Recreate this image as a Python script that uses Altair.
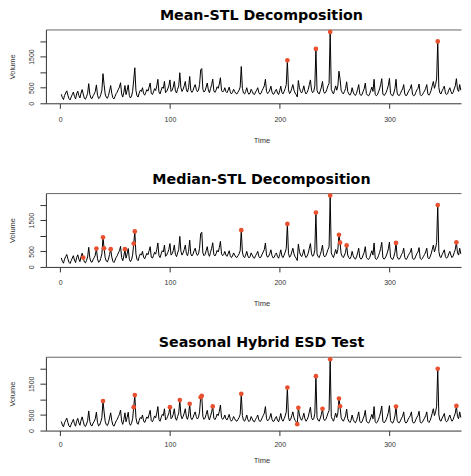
import altair as alt
import pandas as pd

# Daily volume series (t = 1..365)
volume = [
    290, 180, 120, 250, 330, 400, 260, 150, 110, 200,
    280, 360, 220, 140, 300, 390, 250, 170, 330, 440,
    300, 160, 130, 210, 320, 630, 290, 170, 150, 240,
    300, 380, 590, 260, 150, 180, 280, 420, 950, 600,
    300, 190, 160, 250, 400, 570, 320, 180, 140, 220,
    310, 360, 450, 520, 660, 300, 200, 350, 570, 280,
    420, 590, 250, 170, 230, 380, 750, 1140, 420, 240,
    200, 330, 420, 380, 500, 310, 260, 350, 440, 390,
    520, 650, 320, 280, 360, 470, 410, 560, 770, 360,
    300, 420, 520, 480, 700, 340, 380, 460, 560, 750,
    380, 420, 520, 700, 400, 330, 450, 560, 980, 500,
    380, 450, 560, 700, 430, 360, 500, 860, 420, 350,
    410, 520, 600, 450, 370, 420, 600, 1070, 1115, 450,
    360, 400, 520, 650, 430, 340, 470, 600, 775, 400,
    350, 420, 530, 480, 620, 820, 420, 360, 400, 500,
    380, 340, 420, 520, 360, 300, 350, 450, 380, 320,
    300, 360, 420, 520, 1180, 480, 330, 300, 380, 500,
    350, 290, 330, 450, 380, 300, 280, 360, 420, 500,
    340, 290, 320, 410, 480, 560, 770, 380, 310, 350,
    430, 550, 360, 290, 310, 400, 450, 330, 280, 400,
    550, 350, 300, 380, 470, 600, 1380, 430, 310, 360,
    480, 600, 420, 330, 280, 205, 730, 500, 380, 330,
    420, 560, 380, 300, 350, 440, 600, 750, 420, 340,
    380, 550, 1745, 420, 330, 300, 400, 520, 700, 380,
    320, 360, 450, 560, 640, 2290, 450, 360, 300, 420,
    560, 420, 560, 1030, 780, 420, 340, 300, 380, 470,
    690, 380, 300, 260, 330, 500, 360, 280, 250, 320,
    450, 600, 300, 250, 280, 380, 470, 650, 310, 260,
    240, 300, 420, 520, 380, 770, 290, 240, 270, 360,
    460, 600, 790, 300, 250, 280, 350, 450, 580, 800,
    320, 260, 240, 330, 470, 770, 330, 260, 250, 310,
    400, 460, 600, 300, 240, 270, 360, 420, 480, 600,
    290, 240, 260, 350, 430, 480, 620, 280, 240, 270,
    340, 400, 480, 600, 300, 260, 320, 420, 560, 700,
    480, 600, 780, 1985, 500, 330, 300, 400, 470, 550,
    330, 280, 310, 420, 500, 380, 300, 350, 460, 560,
    790, 450, 380, 600, 420,
]

# Anomalous time indices flagged by each method
mean_anoms = [207, 233, 246, 344]
median_anoms = [21, 33, 39, 40, 46, 59, 67, 68, 165, 207, 233, 246,
                254, 255, 261, 306, 344, 361]
hybrid_anoms = [39, 67, 68, 100, 109, 118, 128, 129, 139, 165, 207, 216,
                217, 233, 239, 246, 254, 255, 306, 344, 361]

titles = ["Mean-STL Decomposition", "Median-STL Decomposition",
          "Seasonal Hybrid ESD Test"]
x_ticks = [0, 100, 200, 300]
y_ticks = [0, 500, 1000, 1500, 2000]

series = pd.DataFrame({"Time": list(range(1, len(volume) + 1)), "Volume": volume})

AX = "#333333"
X_DOMAIN = [-13, 365.2]
Y_DOMAIN = [0, 2370]


def panel(title, anoms, label_pad, title_pad):
    pts = series[series["Time"].isin(anoms)]
    y = alt.Y(
        "Volume:Q",
        scale=alt.Scale(domain=Y_DOMAIN, nice=False),
        axis=alt.Axis(
            values=y_ticks, format="d",
            labelExpr="datum.value == 1000 || datum.value == 2000 ? '' : datum.label",
            labelAngle=270, labelAlign="center", labelBaseline="bottom",
            labelPadding=5, tickSize=6, grid=False,
            title="Volume", titlePadding=11,
        ),
    )
    x_bottom = alt.X(
        "Time:Q",
        scale=alt.Scale(domain=X_DOMAIN, nice=False, zero=False),
        axis=alt.Axis(values=x_ticks, format="d", tickSize=5,
                      labelPadding=label_pad, grid=False, title="Time",
                      titlePadding=title_pad, titleX=216),
    )
    x_top = alt.X(
        "Time:Q",
        scale=alt.Scale(domain=X_DOMAIN, nice=False, zero=False),
        axis=alt.Axis(orient="top", labels=False, ticks=False, grid=False,
                      title=None, domainColor="#666666"),
    )
    line = alt.Chart(series).mark_line(color="black", strokeWidth=1).encode(
        x=x_bottom, y=y)
    points = alt.Chart(pts).mark_circle(color="#E8502F", size=22, opacity=1).encode(
        x=x_top, y=y)
    return alt.layer(line, points).resolve_axis(x="independent").properties(
        width=416, height=74,
        title=alt.TitleParams(text=title, font="DejaVu Sans", fontSize=14.3,
                              fontWeight="bold", color="black", anchor="middle",
                              offset=6, dx=8),
    )


chart = alt.vconcat(
    panel(titles[0], mean_anoms, 7, 14),
    panel(titles[1], median_anoms, 7, 14),
    panel(titles[2], hybrid_anoms, 5, 9),
    spacing=28,
).properties(
    padding={"left": 1, "top": 0, "right": 0, "bottom": 0},
).configure_view(stroke=None).configure_axis(
    labelFont="Liberation Sans", labelFontSize=7, labelColor=AX,
    titleFont="Liberation Sans", titleFontSize=7.5, titleFontWeight="normal",
    titleColor=AX, domainColor=AX, tickColor=AX, domainWidth=1,
)

chart.save("out.html", embed_options={"renderer": "svg", "actions": False})
